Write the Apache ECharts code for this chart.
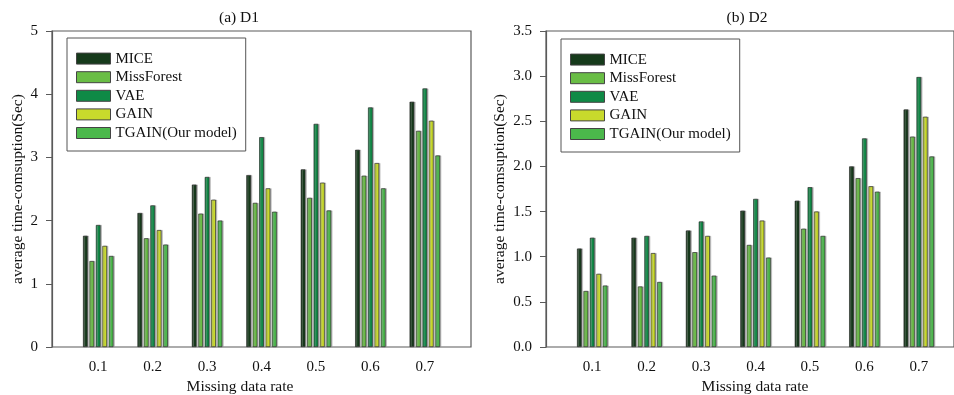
<!DOCTYPE html>
<html>
<head>
<meta charset="utf-8">
<script src="https://cdn.jsdelivr.net/npm/echarts@6/dist/echarts.min.js"></script>
<style>
  html, body { margin: 0; padding: 0; background: #fff; }
  #main { width: 954px; height: 395px; }
</style>
</head>
<body>
<div id="main"></div>
<script>
const categories = ['0.1', '0.2', '0.3', '0.4', '0.5', '0.6', '0.7'];
const methods = ['MICE', 'MissForest', 'VAE', 'GAIN', 'TGAIN(Our model)'];
const colors = ['#163a1b', '#69bd45', '#0f8a46', '#c8da2c', '#4bb84b'];

// (a) D1
const d1Mice = [1.76, 2.12, 2.57, 2.72, 2.81, 3.12, 3.88];
const d1MissForest = [1.36, 1.72, 2.11, 2.28, 2.36, 2.71, 3.42];
const d1Vae = [1.93, 2.24, 2.69, 3.32, 3.53, 3.79, 4.09];
const d1Gain = [1.60, 1.85, 2.33, 2.51, 2.60, 2.91, 3.58];
const d1Tgain = [1.44, 1.62, 2.00, 2.14, 2.16, 2.51, 3.03];

// (b) D2
const d2Mice = [1.09, 1.21, 1.29, 1.51, 1.62, 2.00, 2.63];
const d2MissForest = [0.62, 0.67, 1.05, 1.13, 1.31, 1.87, 2.33];
const d2Vae = [1.21, 1.23, 1.39, 1.64, 1.77, 2.31, 2.99];
const d2Gain = [0.81, 1.04, 1.23, 1.40, 1.50, 1.78, 2.55];
const d2Tgain = [0.68, 0.72, 0.79, 0.99, 1.23, 1.72, 2.11];

const d1 = [d1Mice, d1MissForest, d1Vae, d1Gain, d1Tgain];
const d2 = [d2Mice, d2MissForest, d2Vae, d2Gain, d2Tgain];

const serif = 'Liberation Serif';
const axisColor = '#5a5a5a';

function bars(data, axisIndex) {
  return data.map((vals, i) => ({
    name: methods[i],
    type: 'bar',
    xAxisIndex: axisIndex,
    yAxisIndex: axisIndex,
    data: vals,
    barWidth: 4.6,
    barGap: '40%',
    itemStyle: {
      color: colors[i],
      borderColor: '#222',
      borderWidth: 0.6,
      shadowColor: 'rgba(150,150,150,0.7)',
      shadowOffsetX: 1.3,
      shadowBlur: 0
    }
  }));
}

function legend(left, top) {
  return {
    data: methods,
    orient: 'vertical',
    left: left,
    top: top,
    padding: [12.6, 9, 10, 9],
    itemGap: 2.6,
    itemWidth: 34,
    itemHeight: 11,
    borderColor: '#555',
    borderWidth: 1,
    icon: 'rect',
    itemStyle: { borderColor: '#444', borderWidth: 1, shadowColor: 'rgba(0,0,0,0)' },
    textStyle: { fontFamily: serif, fontSize: 15, color: '#111', lineHeight: 16 }
  };
}

function catAxis(gridIndex) {
  return {
    type: 'category',
    gridIndex: gridIndex,
    data: categories,
    axisLine: { show: false },
    axisTick: { alignWithLabel: true, length: 4, lineStyle: { color: axisColor } },
    axisLabel: { margin: 13, fontFamily: serif, fontSize: 15, color: '#111' }
  };
}

function valAxis(gridIndex, max, interval, fmt, nameGap) {
  return {
    type: 'value',
    gridIndex: gridIndex,
    min: 0,
    max: max,
    interval: interval,
    offset: 19,
    name: 'average time-comsuption(Sec)',
    nameLocation: 'middle',
    nameGap: nameGap,
    nameTextStyle: { fontFamily: serif, fontSize: 15.5, color: '#111' },
    axisLine: { show: true, lineStyle: { color: axisColor, width: 1.2 } },
    axisTick: { show: true, length: 6, lineStyle: { color: axisColor } },
    splitLine: { show: false },
    axisLabel: { margin: 14, fontFamily: serif, fontSize: 15, color: '#111', formatter: fmt }
  };
}

const hidden = (gridIndex, type) => ({ type: type, gridIndex: gridIndex, show: false, min: 0, max: 1 });

const titleStyle = { fontFamily: serif, fontSize: 15.5, fontWeight: 'normal', color: '#111' };

const chart = echarts.init(document.getElementById('main'));
chart.setOption({
  animation: false,
  textStyle: { fontFamily: serif },
  title: [
    { text: '(a) D1', left: 234, top: 5, textAlign: 'center', textStyle: titleStyle },
    { text: '(b) D2', left: 742, top: 5, textAlign: 'center', textStyle: titleStyle },
    { text: 'Missing data rate', left: 235, top: 374, textAlign: 'center', textStyle: titleStyle },
    { text: 'Missing data rate', left: 750, top: 374, textAlign: 'center', textStyle: titleStyle }
  ],
  legend: [legend(67, 38), legend(561, 39)],
  grid: [
    { left: 52, top: 31, width: 419, height: 316, show: true, borderColor: axisColor, borderWidth: 1.2 },
    { left: 71, top: 31, width: 381, height: 316 },
    { left: 546, top: 31, width: 418, height: 316, show: true, borderColor: axisColor, borderWidth: 1.2 },
    { left: 565, top: 31, width: 381, height: 316 }
  ],
  xAxis: [hidden(0, 'value'), catAxis(1), hidden(2, 'value'), catAxis(3)],
  yAxis: [
    hidden(0, 'value'),
    valAxis(1, 5, 1, v => String(v), 26),
    hidden(2, 'value'),
    valAxis(3, 3.5, 0.5, v => v.toFixed(1), 38)
  ],
  series: [...bars(d1, 1), ...bars(d2, 3)]
});
</script>
</body>
</html>
